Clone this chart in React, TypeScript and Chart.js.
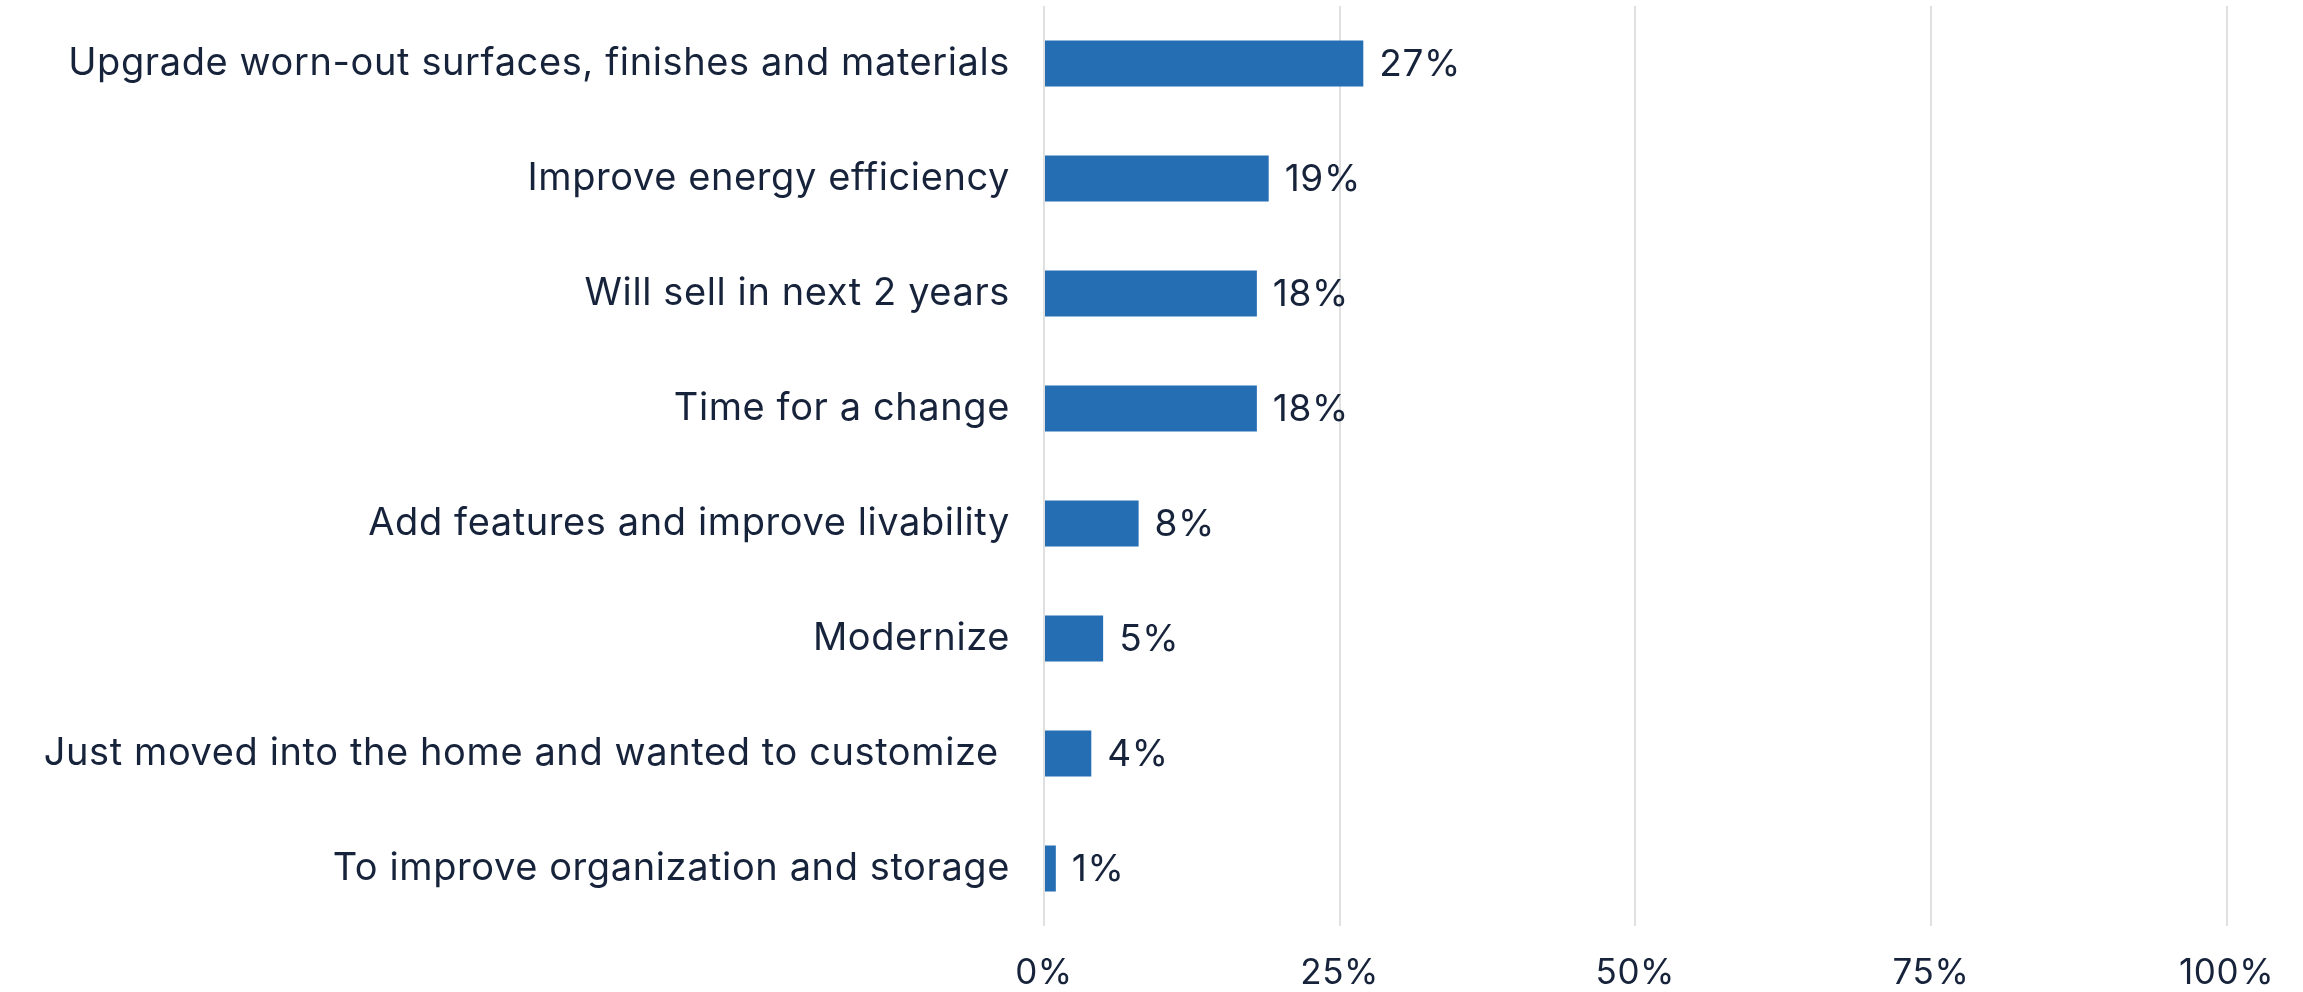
import React, { useEffect, useRef } from "react";
import { Chart, registerables } from "chart.js";

Chart.register(...registerables);

const categories = [
  "Upgrade worn-out surfaces, finishes and materials",
  "Improve energy efficiency",
  "Will sell in next 2 years",
  "Time for a change",
  "Add features and improve livability",
  "Modernize",
  "Just moved into the home and wanted to customize ",
  "To improve organization and storage",
];
const values = [27, 19, 18, 18, 8, 5, 4, 1];
const xTicks = [0, 25, 50, 75, 100];

const FONT = "Inter, 'Open Sans', sans-serif";
const TEXT = "#16233a";
const BAR = "#256eb4";

const spacing = {
  id: "spacing",
  beforeDraw(chart: any) {
    (chart.ctx as any).letterSpacing = "0.6px";
  },
};

const valueLabels = {
  id: "valueLabels",
  afterDatasetsDraw(chart: any) {
    const ctx = chart.ctx;
    const meta = chart.getDatasetMeta(0);
    ctx.save();
    ctx.font = `37px ${FONT}`;
    ctx.fillStyle = TEXT;
    ctx.textAlign = "left";
    ctx.textBaseline = "middle";
    meta.data.forEach((el: any, i: number) => {
      ctx.fillText(values[i] + "%", el.x + 16, el.y + 1);
    });
    ctx.restore();
  },
};

export default function App() {
  const ref = useRef<HTMLCanvasElement>(null);
  useEffect(() => {
    document.body.style.margin = "0";
    const chart = new Chart(ref.current!, {
      type: "bar",
      data: {
        labels: categories,
        datasets: [
          {
            data: values,
            backgroundColor: BAR,
            barPercentage: 0.4,
            categoryPercentage: 1,
          },
        ],
      },
      options: {
        indexAxis: "y",
        animation: false,
        responsive: false,
        layout: { padding: { top: 6, right: 76, left: 0, bottom: 0 } },
        plugins: { legend: { display: false }, tooltip: { enabled: false } },
        scales: {
          x: {
            min: 0,
            max: 100,
            afterBuildTicks: (s: any) => {
              s.ticks = xTicks.map((v) => ({ value: v }));
            },
            afterFit: (s: any) => {
              s.height = 66;
            },
            grid: { color: "#e0e0e0", lineWidth: 2, drawTicks: false },
            border: { display: false },
            ticks: {
              padding: 30,
              maxRotation: 0,
              color: TEXT,
              font: { family: FONT, size: 35, lineHeight: 1 },
              callback: (v: any) => v + "%",
            },
          },
          y: {
            grid: { display: false, drawTicks: false },
            border: { display: false },
            afterFit: (s: any) => {
              s.width = 1044;
              s.paddingTop = 0;
              s.paddingBottom = 0;
            },
            ticks: {
              padding: 34,
              color: TEXT,
              font: { family: FONT, size: 38 },
            },
          },
        },
      },
      plugins: [spacing, valueLabels],
    });
    return () => chart.destroy();
  }, []);
  return (
    <div style={{ width: 2303, height: 992 }}>
      <canvas ref={ref} width={2303} height={992} style={{ display: "block" }} />
    </div>
  );
}
